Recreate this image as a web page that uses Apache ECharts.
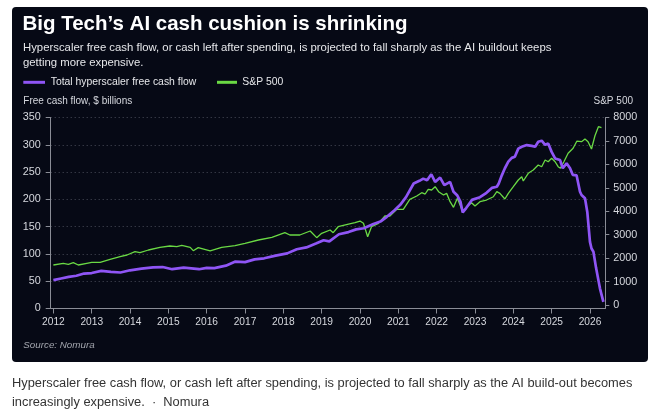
<!DOCTYPE html>
<html><head><meta charset="utf-8">
<script src="https://cdn.jsdelivr.net/npm/echarts@6/dist/echarts.min.js"></script>
<style>
html,body{margin:0;padding:0;background:#fff;}
#wrap{position:relative;width:662px;height:412px;overflow:hidden;}
#card{position:absolute;left:12px;top:7px;width:636px;height:355px;background:#060915;border-radius:4px;}
#chart{position:absolute;left:0;top:0;width:662px;height:412px;}
</style></head>
<body><div id="wrap"><div id="card"></div><div id="chart"></div></div>
<script>
// Total hyperscaler free cash flow ($ billions), decimal years
const fcfDates = [2012.00,2012.20,2012.40,2012.60,2012.80,2013.00,2013.25,2013.50,2013.75,2014.00,2014.30,2014.60,2014.85,2015.10,2015.40,2015.80,2016.00,2016.20,2016.50,2016.75,2017.00,2017.25,2017.50,2017.80,2018.10,2018.35,2018.60,2018.85,2019.05,2019.20,2019.45,2019.70,2019.90,2020.10,2020.35,2020.55,2020.70,2020.90,2021.05,2021.20,2021.40,2021.55,2021.65,2021.75,2021.86,2021.96,2022.09,2022.20,2022.35,2022.44,2022.54,2022.62,2022.68,2022.77,2022.92,2023.13,2023.30,2023.44,2023.57,2023.62,2023.70,2023.78,2023.87,2023.96,2024.04,2024.13,2024.22,2024.35,2024.48,2024.57,2024.65,2024.74,2024.83,2024.91,2025.00,2025.09,2025.22,2025.29,2025.39,2025.48,2025.55,2025.65,2025.74,2025.78,2025.87,2025.93,2026.00,2026.04,2026.09,2026.16,2026.26,2026.35];
const fcfValues = [52,55,58,60,64,65,69,67,66,70,73,75.5,76,72,75,72,74.5,74,78.5,86,85,90,92,97,101,108.5,112,119,125,123,136,140,145,147,155,160,168,180,190,204,229,234,238,235,246,232,240,226,232,214,207,196,176,184,199,204,212,221,223,229,244,257,269,276,278,293,296.5,299.5,298,296.5,305.5,307.5,300,302.5,287,275,272,257,266,257,245,244,214,208,202,177,122,110,104,74,37,12];
// S&P 500 index, decimal years
const spxDates = [2012.00,2012.26,2012.39,2012.52,2012.65,2012.87,2013.00,2013.22,2013.48,2013.74,2013.92,2014.13,2014.26,2014.48,2014.78,2015.04,2015.22,2015.35,2015.57,2015.65,2015.78,2016.09,2016.39,2016.74,2017.00,2017.35,2017.70,2018.04,2018.17,2018.43,2018.70,2018.87,2019.00,2019.22,2019.30,2019.43,2019.70,2019.87,2020.00,2020.09,2020.20,2020.30,2020.48,2020.65,2020.78,2020.96,2021.13,2021.30,2021.48,2021.61,2021.70,2021.78,2021.87,2021.96,2022.05,2022.18,2022.26,2022.35,2022.44,2022.54,2022.61,2022.68,2022.78,2022.91,2023.00,2023.13,2023.30,2023.48,2023.57,2023.65,2023.70,2023.78,2023.87,2024.00,2024.13,2024.22,2024.26,2024.39,2024.52,2024.65,2024.74,2024.83,2024.91,2025.00,2025.09,2025.17,2025.23,2025.32,2025.43,2025.56,2025.66,2025.78,2025.87,2025.95,2026.04,2026.13,2026.22,2026.30];
const spxValues = [1706,1778,1736,1806,1706,1778,1820,1820,1950,2060,2133,2275,2231,2346,2460,2517,2488,2540,2460,2317,2446,2304,2460,2531,2631,2773,2887,3085,2986,2986,3157,2873,3058,3200,3085,3340,3455,3511,3583,3485,2914,3340,3485,3797,3797,4083,4083,4509,4650,4790,4735,4935,4906,5047,4834,4693,4764,4407,4167,4551,4266,3980,4167,4364,4223,4407,4479,4620,4834,4764,4693,4522,4764,5047,5333,5473,5290,5618,5759,5972,5900,6186,6113,6258,6113,5900,5832,6113,6471,6685,6996,6966,7081,6966,6655,7222,7606,7564];
const yearTicks = [2012,2013,2014,2015,2016,2017,2018,2019,2020,2021,2022,2023,2024,2025,2026];
const rightTicks = [0,1000,2000,3000,4000,5000,6000,7000,8000];

const PURPLE = '#8f55f5';
const GREEN = '#6ad944';
const FONT = '"Liberation Sans", Arial, sans-serif';

const chart = echarts.init(document.getElementById('chart'), null, {renderer:'canvas'});
const fcfData = fcfDates.map((d,i)=>[d,fcfValues[i]]);
const spxData = spxDates.map((d,i)=>[d,spxValues[i]]);

const txt = (text, x, y, font, fill, align) => ({
  type:'text', x:x, y:y, silent:true,
  style:{text:text, font:font, fill:fill, align:align||'left', verticalAlign:'middle'}
});

chart.setOption({
  backgroundColor:'transparent',
  animation:false,
  grid:{left:50.7, right:56.7, top:117.5, bottom:103.5, containLabel:false},
  xAxis:{
    type:'value', min:2011.93, max:2026.4,
    axisLine:{show:true, lineStyle:{color:'#8a8d96', width:1}},
    axisTick:{show:true, length:5, lineStyle:{color:'#8a8d96'}, customValues:yearTicks},
    axisLabel:{customValues:yearTicks, color:'#d6d8de', fontFamily:FONT, fontSize:10.2, margin:9,
      formatter:v=>String(Math.round(v))},
    splitLine:{show:false}
  },
  yAxis:[{
    type:'value', min:0, max:350, interval:50, position:'left',
    axisLine:{show:true, lineStyle:{color:'#8a8d96', width:1}},
    axisTick:{show:true, length:5, lineStyle:{color:'#8a8d96'}},
    axisLabel:{color:'#d6d8de', fontFamily:FONT, fontSize:10.8, margin:10, formatter:v=>String(v)},
    splitLine:{show:true, lineStyle:{color:'#4a4d5a', type:[1,3], width:1}}
  },{
    type:'value', min:-150, max:8000, position:'right',
    axisLine:{show:true, lineStyle:{color:'#8a8d96', width:1}},
    axisTick:{show:true, length:4, lineStyle:{color:'#8a8d96'}, customValues:rightTicks},
    axisLabel:{customValues:rightTicks, color:'#d6d8de', fontFamily:FONT, fontSize:10.8, margin:8,
      formatter:v=>String(Math.round(v))},
    splitLine:{show:false}
  }],
  series:[{
    name:'S&P 500', type:'line', yAxisIndex:1, data:spxData, showSymbol:false,
    lineStyle:{color:GREEN, width:1.3}, z:2
  },{
    name:'Total hyperscaler free cash flow', type:'line', yAxisIndex:0, data:fcfData, showSymbol:false,
    lineStyle:{color:PURPLE, width:2.7}, z:3
  }],
  graphic:[
    txt('Big Tech\u2019s AI cash cushion is shrinking', 22.5, 24, 'bold 20.5px '+FONT, '#ffffff'),
    txt('Hyperscaler free cash flow, or cash left after spending, is projected to fall sharply as the AI buildout keeps', 23, 48, '11.35px '+FONT, '#e6e7ea'),
    txt('getting more expensive.', 23, 63, '11.35px '+FONT, '#e6e7ea'),
    {type:'line', silent:true, shape:{x1:23.3,y1:82.3,x2:45,y2:82.3}, style:{stroke:PURPLE, lineWidth:3}},
    txt('Total hyperscaler free cash flow', 50.7, 82.3, '10.4px '+FONT, '#e6e7ea'),
    {type:'line', silent:true, shape:{x1:217,y1:82.3,x2:237,y2:82.3}, style:{stroke:GREEN, lineWidth:3}},
    txt('S&P 500', 242.3, 82.3, '10.4px '+FONT, '#e6e7ea'),
    txt('Free cash flow, $ billions', 23.3, 101, '10px '+FONT, '#d6d8de'),
    txt('S&P 500', 633, 101, '10px '+FONT, '#d6d8de', 'right'),
    txt('Source: Nomura', 23.3, 345, 'italic 9.8px '+FONT, '#a3a6ae'),
    txt('Hyperscaler free cash flow, or cash left after spending, is projected to fall sharply as the AI build-out becomes', 12, 383, '12.85px '+FONT, '#333333'),
    txt('increasingly expensive.  \u00b7  Nomura', 12, 402, '12.85px '+FONT, '#333333')
  ]
});
</script>
</body></html>
